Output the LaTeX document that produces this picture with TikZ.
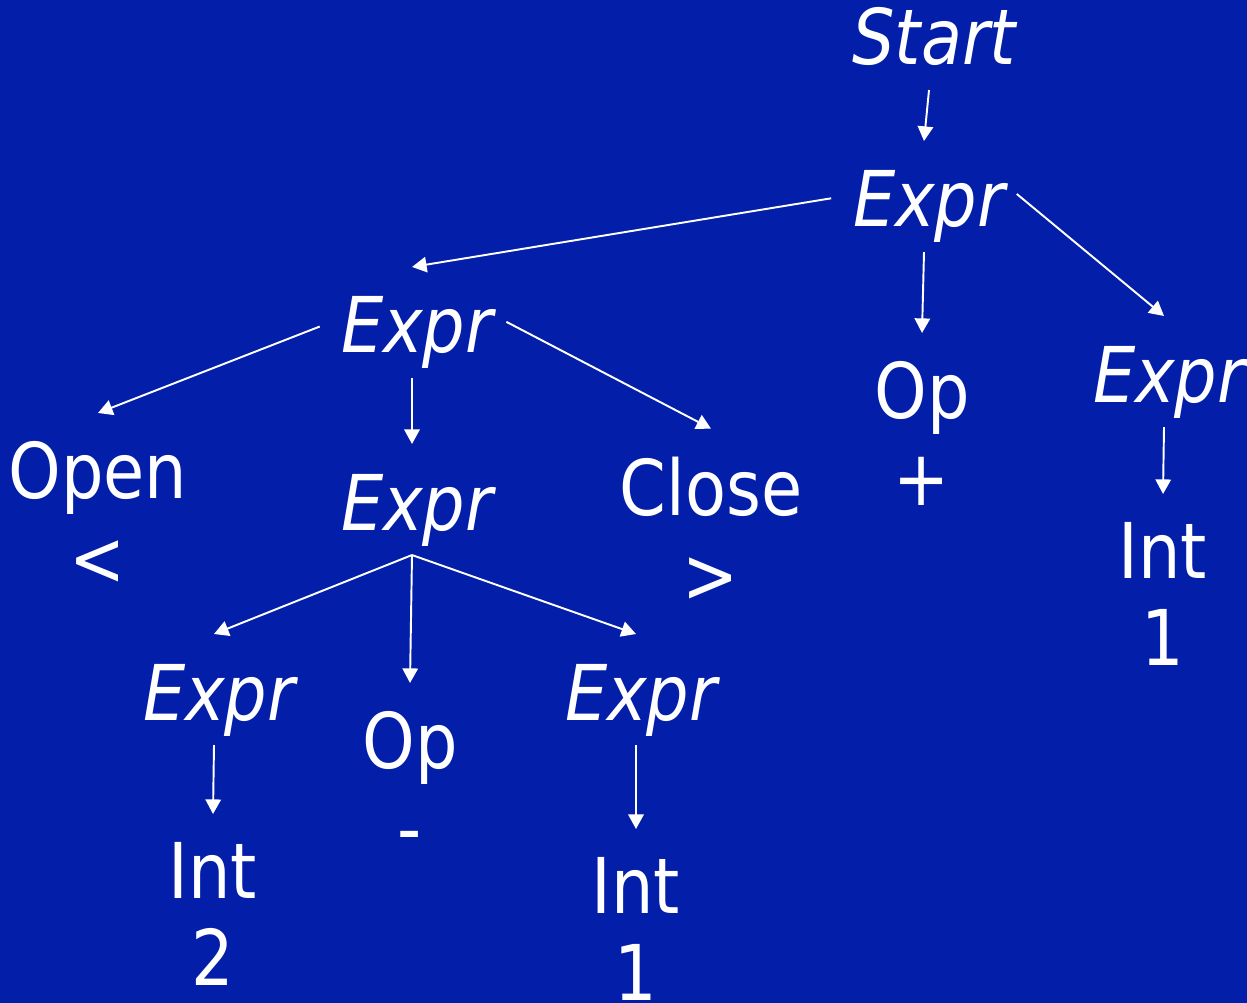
\documentclass[tikz,border=0pt]{standalone}
\usepackage{fontspec}
\setmainfont{DejaVu Sans}[FakeStretch=0.87]
\usetikzlibrary{arrows.meta}
\usetikzlibrary{positioning}
\definecolor{slideblue}{RGB}{3,30,168}

\begin{document}
\begin{tikzpicture}[->,>={Triangle[length=8.3pt,width=8.8pt]},x=0.02cm,y=-0.02cm,
                    line width=1.1pt,white,
                    nt/.style={anchor=base,inner sep=0pt,text height=48.4pt,text depth=13.7pt,
                               execute at begin node={\kern5.7pt},
                               font=\fontsize{43.8}{49.5}\selectfont\itshape},
                    tm/.style={anchor=base,inner sep=0pt,outer ysep=15.9pt,align=center,
                               font=\fontsize{43.8}{49.5}\selectfont}]

  \fill[slideblue] (0,0) rectangle (1247,1003);
  \useasboundingbox (0,0) rectangle (1247,1003);

  % terminals are placed at the baseline of their second line
  \node[nt] (start) at (929,65) {Start};
  \node[nt] (e1) at (924,227) {Expr};
  \node[nt] (e2) at (412,353) {Expr};
  \node[tm] (op1) at (922,505) {Op\\+};
  \node[nt] (e3) at (1164,402) {Expr};
  \node[tm] (int1) at (1163,665) {Int\\1};
  \node[tm] (open) at (98,585) {Open\\<};
  \node[nt] (e4) at (412,530) {Expr};
  \node[tm] (close) at (711,602) {Close\\>};
  \node[nt] (e5) at (214,720) {Expr};
  \node[tm] (op2) at (410,855) {Op\\-};
  \node[nt] (e6) at (636,720) {Expr};
  \node[tm] (int2) at (213,985) {Int\\2};
  \node[tm] (int3) at (636,1000) {Int\\1};

  \path
  	(start.south) edge (e1.north)
  	(e1.west) edge[shorten <=6.3pt] (e2.north)
  	(e1.south) edge (op1.north)
  	(e1.8) edge[shorten <=8pt] (e3.north)
  	(e2.west) edge[shorten <=6.3pt] (open.north)
  	(e2.south) edge (e4.north)
  	(e2.5) edge[shorten <=8pt] (close.north)
  	(e4.south) edge (e5.north)
  		edge (op2.north)
  		edge (e6.north)
  	(e5.south) edge (int2.north)
  	(e6.south) edge (int3.north)
  	(e3.south) edge (int1.north);
\end{tikzpicture}
\end{document}
